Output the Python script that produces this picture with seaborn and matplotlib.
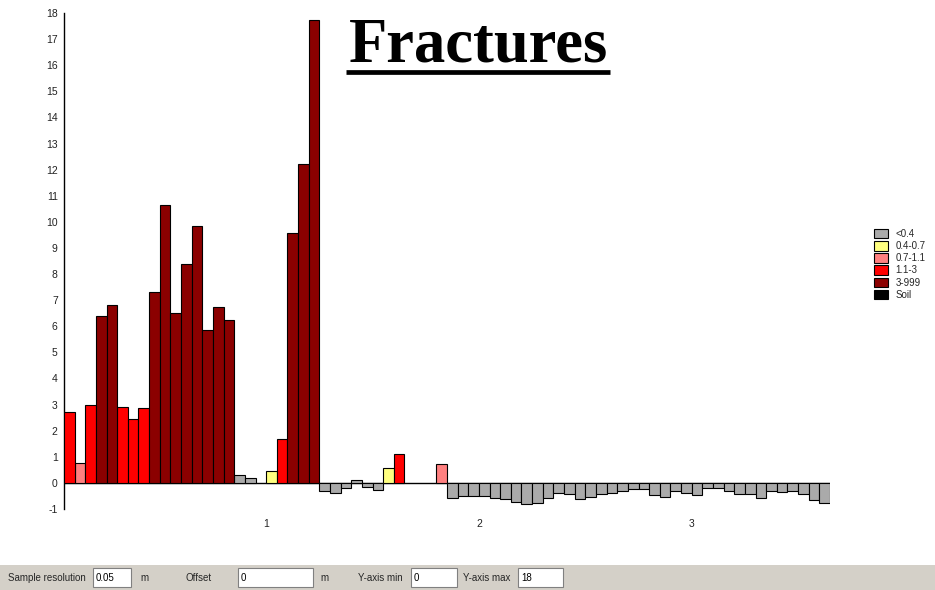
import numpy as np
import pandas as pd
import matplotlib
matplotlib.use("Agg")
import matplotlib.pyplot as plt
import seaborn as sns
from matplotlib.patches import Patch, Rectangle
from matplotlib.lines import Line2D

# ---------------- data ----------------
resolution = 0.05  # m per sample
values = [
    2.71, 0.77, 2.99, 6.41, 6.82, 2.89, 2.45, 2.85, 7.32, 10.65,
    6.51, 8.37, 9.83, 5.86, 6.73, 6.23, 0.29, 0.18, None, 0.47,
    1.67, 9.56, 12.22, 17.72, -0.32, -0.40, -0.20, 0.13, -0.14, -0.26,
    0.56, 1.12, None, None, None, 0.71, -0.59, -0.51, -0.51, -0.51,
    -0.59, -0.63, -0.73, -0.82, -0.78, -0.59, -0.37, -0.43, -0.63, -0.55,
    -0.43, -0.40, -0.32, -0.22, -0.22, -0.47, -0.55, -0.32, -0.40, -0.46,
    -0.19, -0.19, -0.31, -0.43, -0.43, -0.59, -0.31, -0.34, -0.31, -0.43,
    -0.66, -0.77,
]
class_labels = ["<0.4", "0.4-0.7", "0.7-1.1", "1.1-3", "3-999", "Soil"]
class_edges = [-np.inf, 0.4, 0.7, 1.1, 3.0, 999.0]
class_colors = ["#aaaaaa", "#ffff80", "#ff8080", "#ff0000", "#8b0000", "#000000"]
x_ticks = [1, 2, 3]
y_ticks = list(range(-1, 19))
title = "Fractures"
controls = [("Sample resolution", "0.05"), ("Offset", "0"), ("Y-axis min", "0"), ("Y-axis max", "18")]

# ---------------- table ----------------
depth = resolution * (np.arange(len(values)) + 1) + resolution / 2
df = pd.DataFrame({"depth": depth, "value": pd.to_numeric(pd.Series(values), errors="coerce")})
df = df.dropna(subset=["value"]).reset_index(drop=True)
df["cls"] = pd.cut(df["value"], bins=class_edges, labels=class_labels[:5], right=False).astype(str)

# ---------------- style ----------------
sns.set_style("white")
plt.rcParams["font.family"] = ["Liberation Sans", "DejaVu Sans"]

W, H = 935, 590
fig = plt.figure(figsize=(W / 100, H / 100), dpi=100)
fx = lambda x: x / W
fy = lambda y: 1 - y / H

ax = fig.add_axes([fx(64), fy(509), fx(830) - fx(64), fy(13) - fy(509)])

palette = dict(zip(class_labels, class_colors))
sns.barplot(data=df, x="depth", y="value", hue="cls", hue_order=class_labels[:5],
            palette=palette, native_scale=True, dodge=False, width=1.0,
            edgecolor="black", linewidth=0.8, errorbar=None, legend=False,
            saturation=1, ax=ax, zorder=3)

ax.axhline(0, color="black", lw=1.0, zorder=2)
ax.set_xlim(0.05, 3.65)
ax.set_ylim(-1, 18)
ax.set_xticks(x_ticks)
ax.set_xticklabels([str(t) for t in x_ticks])
ax.set_yticks(y_ticks)
ax.set_yticklabels([str(t) for t in y_ticks])
ax.set_yticks(np.arange(-0.5, 18, 1.0), minor=True)
ax.set_xlabel("")
ax.set_ylabel("")
for s in ["top", "right", "bottom"]:
    ax.spines[s].set_visible(False)
ax.spines["left"].set_color("black")
ax.spines["left"].set_linewidth(1.0)
ax.tick_params(axis="y", which="major", direction="inout", length=5, width=0.8,
               labelsize=7.5, pad=2, colors="black", labelcolor="#222222")
ax.tick_params(axis="y", which="minor", direction="inout", length=3, width=0.8, colors="black")
ax.tick_params(axis="x", which="both", length=0, labelsize=7.5, pad=7, labelcolor="#222222")
ax.grid(False)

# ---------------- title ----------------
fig.text(fx(478), fy(61), title, ha="center", va="baseline",
         fontfamily="Liberation Serif", fontweight="bold", fontsize=45, color="black")
fig.add_artist(Line2D([fx(346), fx(610)], [fy(72), fy(72)], transform=fig.transFigure,
                      color="black", lw=3.4, solid_capstyle="butt"))

# ---------------- legend ----------------
handles = [Patch(facecolor=c, edgecolor="black", lw=0.8, label=l)
           for l, c in zip(class_labels, class_colors)]
fig.legend(handles=handles, loc="upper left", bbox_to_anchor=(fx(874), fy(229)),
           frameon=False, fontsize=7, handlelength=1.4, handleheight=1.1,
           labelspacing=0.22, handletextpad=0.8, borderpad=0, borderaxespad=0)

# ---------------- bottom control strip ----------------
fig.patches.append(Rectangle((0, 0), 1, fy(565), transform=fig.transFigure,
                             facecolor="#d4d0c8", edgecolor="none", zorder=0))
def box(x0, x1, txt):
    fig.patches.append(Rectangle((fx(x0), fy(587)), fx(x1) - fx(x0), fy(568) - fy(587),
                                 transform=fig.transFigure, facecolor="white",
                                 edgecolor="#808080", lw=0.8, zorder=1))
    fig.text(fx(x0 + 3), fy(578), txt, ha="left", va="center", fontsize=7, color="black")

fig.text(fx(8), fy(578), controls[0][0], ha="left", va="center", fontsize=7)
box(93, 131, controls[0][1])
fig.text(fx(140), fy(578), "m", ha="left", va="center", fontsize=7)
fig.text(fx(185), fy(578), controls[1][0], ha="left", va="center", fontsize=7)
box(238, 313, controls[1][1])
fig.text(fx(320), fy(578), "m", ha="left", va="center", fontsize=7)
fig.text(fx(358), fy(578), controls[2][0], ha="left", va="center", fontsize=7)
box(411, 457, controls[2][1])
fig.text(fx(463), fy(578), controls[3][0], ha="left", va="center", fontsize=7)
box(518, 563, controls[3][1])

fig.savefig("out.png", dpi=100, facecolor="white")
